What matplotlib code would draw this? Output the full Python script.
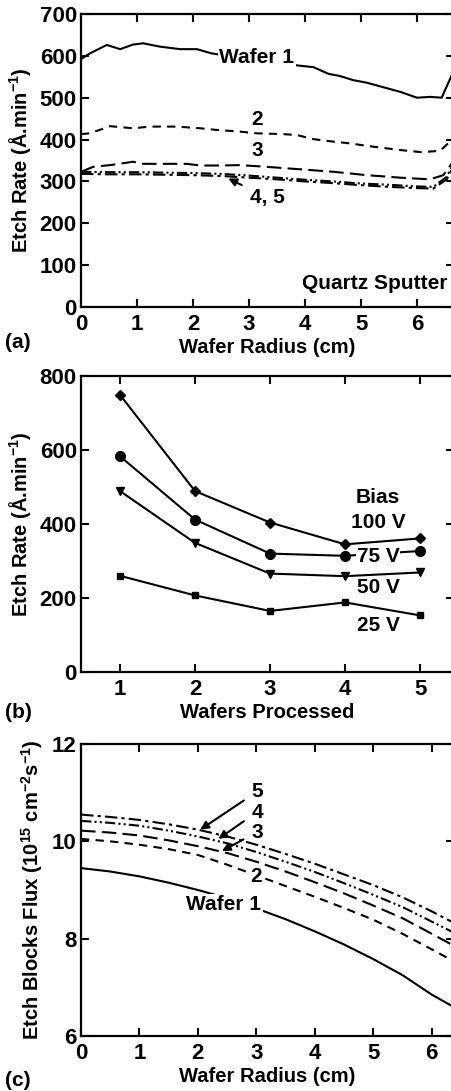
import numpy as np
import matplotlib
matplotlib.use("Agg")
import matplotlib.pyplot as plt

plt.rcParams["font.family"] = ["Liberation Sans", "DejaVu Sans"]
plt.rcParams["font.weight"] = "bold"
plt.rcParams["axes.labelweight"] = "bold"
plt.rcParams["mathtext.fontset"] = "custom"
plt.rcParams["mathtext.rm"] = "Liberation Sans:bold"
plt.rcParams["mathtext.bf"] = "Liberation Sans:bold"
plt.rcParams["mathtext.default"] = "bf"

# (a) etch rate profiles across the wafer, quartz sputter
radius_a = [0.0, 0.16, 0.46, 0.70, 0.93, 1.11, 1.41, 1.77, 2.07, 2.33, 2.7, 3.1, 3.5, 3.94,
            4.15, 4.42, 4.62, 4.86, 5.10, 5.40, 5.70, 6.0, 6.23, 6.44, 6.62]
wafer1_a = [592, 606, 626, 616, 627, 630, 622, 616, 616, 606, 598, 590, 583, 576,
            573, 557, 552, 542, 536, 525, 514, 500, 502, 500, 554]
radius_a2 = [0.0, 0.16, 0.52, 0.93, 1.23, 1.71, 2.13, 2.42, 2.84, 3.13, 3.61, 3.85, 4.15,
             4.51, 4.80, 5.10, 5.70, 6.07, 6.41, 6.62]
wafer2_a = [413, 415, 432, 427, 431, 431, 427, 423, 419, 415, 413, 411, 401,
            395, 391, 385, 375, 370, 373, 399]
radius_a3 = [0.0, 0.22, 0.52, 0.93, 1.11, 1.53, 1.89, 2.13, 2.48, 2.84, 3.30, 3.91, 4.51,
             5.10, 5.70, 6.23, 6.47, 6.62]
wafer3_a = [323, 335, 339, 347, 342, 342, 342, 338, 338, 339, 335, 329, 323,
            315, 309, 305, 315, 343]
radius_a45 = [0.0, 0.5, 1.0, 1.5, 2.0, 2.5, 3.0, 3.5, 4.0, 4.5, 5.0, 5.5, 6.0, 6.29, 6.53, 6.62]
wafer4_a = [323, 322, 322, 321, 320, 318, 314, 309, 304, 300, 295, 292, 288, 287, 311, 335]
wafer5_a = [318, 317, 317, 316, 315, 313, 309, 305, 300, 296, 291, 287, 284, 283, 305, 328]
ticks_a_x = [0, 1, 2, 3, 4, 5, 6]
ticks_a_y = [0, 100, 200, 300, 400, 500, 600, 700]

# (b) etch rate vs wafers processed for each bias
wafers = [1, 2, 3, 4, 5]
bias_100 = [749, 489, 404, 345, 361]
bias_75 = [583, 412, 320, 314, 327]
bias_50 = [489, 349, 266, 259, 269]
bias_25 = [260, 207, 165, 188, 153]
ticks_b_y = [0, 200, 400, 600, 800]

# (c) modelled etch block flux across the wafer
radius_c = [0.0, 0.5, 1.0, 1.5, 2.0, 2.5, 3.0, 3.5, 4.0, 4.5, 5.0, 5.5, 6.0, 6.4]
flux_w1 = [9.45, 9.38, 9.28, 9.15, 9.00, 8.83, 8.62, 8.40, 8.15, 7.88, 7.58, 7.25, 6.85, 6.58]
flux_w2 = [10.05, 10.00, 9.93, 9.84, 9.72, 9.52, 9.30, 9.08, 8.86, 8.63, 8.39, 8.10, 7.78, 7.52]
flux_w3 = [10.22, 10.18, 10.12, 10.02, 9.90, 9.76, 9.58, 9.38, 9.16, 8.93, 8.68, 8.42, 8.10, 7.84]
flux_w4 = [10.42, 10.38, 10.32, 10.22, 10.10, 9.96, 9.78, 9.58, 9.37, 9.14, 8.90, 8.65, 8.35, 8.11]
flux_w5 = [10.55, 10.50, 10.44, 10.35, 10.24, 10.10, 9.93, 9.74, 9.54, 9.32, 9.10, 8.85, 8.56, 8.31]
ticks_c_y = [6, 8, 10, 12]

W, H = 452, 1091
fig = plt.figure(figsize=(W / 100, H / 100), dpi=100)


def px_axes(left, top, right, bottom):
    return fig.add_axes([left / W, 1 - bottom / H, (right - left) / W, (bottom - top) / H])


def style(ax, xt, yt):
    ax.set_xticks(xt, [str(v) for v in xt], fontsize=16, fontweight="bold")
    ax.set_yticks(yt, [str(v) for v in yt], fontsize=16, fontweight="bold")
    ax.tick_params(direction="in", top=True, right=True, length=6, width=1.5, pad=3)
    ax.tick_params(axis="x", pad=5)
    for s in ax.spines.values():
        s.set_linewidth(1.6)


lw = 1.5
dash_short = (0, (4, 3))
dash_long = (0, (7, 3))
dash_dot_dot = (0, (5, 1.5, 1, 1.5, 1, 1.5))
dash_dot = (0, (6, 2, 1.5, 2))
lab_kw = dict(fontsize=14.5, fontweight="bold")
txt_kw = dict(fontsize=15, fontweight="bold", ha="center", va="center")

# ---- panel (a)
ax1 = px_axes(81, 14, 454, 307)
ax1.plot(radius_a, wafer1_a, color="black", lw=lw)
ax1.plot(radius_a2, wafer2_a, color="black", lw=lw, ls=dash_short)
ax1.plot(radius_a3, wafer3_a, color="black", lw=lw, ls=dash_long)
ax1.plot(radius_a45, wafer4_a, color="black", lw=lw, ls=dash_dot_dot)
ax1.plot(radius_a45, wafer5_a, color="black", lw=lw, ls=dash_dot)
style(ax1, ticks_a_x, ticks_a_y)
ax1.set_xlim(0, 6.66)
ax1.set_ylim(0, 700)
ax1.set_xlabel("Wafer Radius (cm)", labelpad=2, **lab_kw)
ax1.set_ylabel(r"Etch Rate (Å.min$^{-1}$)", labelpad=5, **lab_kw)
box = dict(facecolor="white", edgecolor="none", pad=1)
ax1.text(3.14, 595, "Wafer 1", bbox=box, **txt_kw)
ax1.text(3.14, 447, "2", **txt_kw)
ax1.text(3.14, 373, "3", **txt_kw)
ax1.annotate("4, 5", xy=(2.63, 307), xytext=(3.32, 262),
             arrowprops=dict(arrowstyle="-|>", color="black", lw=1.5,
                             mutation_scale=12, shrinkA=4, shrinkB=0), **txt_kw)
ax1.text(6.55, 57, "Quartz Sputter", fontsize=15, fontweight="bold",
         ha="right", va="center")

# ---- panel (b)
ax2 = px_axes(81, 376, 454, 672)
mk = dict(color="black", lw=lw)
ax2.plot(wafers, bias_100, marker="D", ms=5, **mk)
ax2.plot(wafers, bias_75, marker="o", ms=7, **mk)
ax2.plot(wafers, bias_50, marker="v", ms=6, **mk)
ax2.plot(wafers, bias_25, marker="s", ms=5, **mk)
style(ax2, wafers, ticks_b_y)
ax2.set_xlim(0.48, 5.453)
ax2.set_ylim(0, 800)
ax2.set_xlabel("Wafers Processed", labelpad=2, **lab_kw)
ax2.set_ylabel(r"Etch Rate (Å.min$^{-1}$)", labelpad=5, **lab_kw)
ax2.text(4.44, 472, "Bias", **txt_kw)
ax2.text(4.44, 403, "100 V", **txt_kw)
ax2.text(4.44, 313, "75 V", bbox=dict(facecolor="white", edgecolor="none", pad=0.5), **txt_kw)
ax2.text(4.44, 228, "50 V", **txt_kw)
ax2.text(4.44, 126, "25 V", **txt_kw)

# ---- panel (c)
ax3 = px_axes(81, 744, 454, 1036)
ax3.plot(radius_c, flux_w1, color="black", lw=lw)
ax3.plot(radius_c, flux_w2, color="black", lw=lw, ls=dash_short)
ax3.plot(radius_c, flux_w3, color="black", lw=lw, ls=dash_long)
ax3.plot(radius_c, flux_w4, color="black", lw=lw, ls=dash_dot_dot)
ax3.plot(radius_c, flux_w5, color="black", lw=lw, ls=dash_dot)
style(ax3, ticks_a_x, ticks_c_y)
ax3.set_xlim(0, 6.38)
ax3.set_ylim(6, 12)
ax3.set_xlabel("Wafer Radius (cm)", labelpad=2, **lab_kw)
ax3.set_ylabel(r"Etch Blocks Flux (10$^{15}$ cm$^{-2}$s$^{-1}$)", labelpad=5, **lab_kw)
ax3.text(2.44, 8.70, "Wafer 1", bbox=box, **txt_kw)
ax3.text(3.0, 9.27, "2", bbox=dict(facecolor="white", edgecolor="none", pad=0.5), **txt_kw)
arrow = dict(arrowstyle="-|>", color="black", lw=1.5, mutation_scale=12,
             shrinkA=4, shrinkB=0)
ax3.annotate("5", xy=(2.04, 10.24), xytext=(3.01, 11.02), arrowprops=arrow, **txt_kw)
ax3.annotate("4", xy=(2.35, 10.05), xytext=(3.01, 10.60), arrowprops=arrow, **txt_kw)
ax3.annotate("3", xy=(2.41, 9.80), xytext=(3.01, 10.19), arrowprops=arrow, **txt_kw)

for lab, yc in [("(a)", 342), ("(b)", 713), ("(c)", 1080)]:
    fig.text(5 / W, 1 - yc / H, lab, fontsize=15, fontweight="bold",
             ha="left", va="center")

fig.savefig("out.png", dpi=100)
